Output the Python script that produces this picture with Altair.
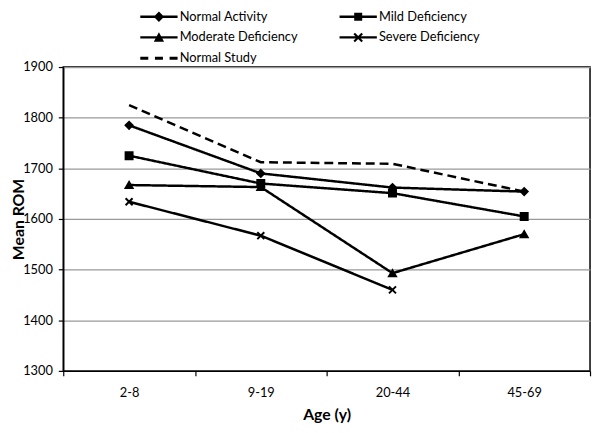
import altair as alt
import pandas as pd

ages = ["2-8", "9-19", "20-44", "45-69"]
series_names = ["Normal Activity", "Mild Deficiency", "Moderate Deficiency",
                "Severe Deficiency", "Normal Study"]
normal_activity = [1785, 1690, 1662, 1654]
mild_deficiency = [1725, 1670, 1651, 1605]
moderate_deficiency = [1667, 1663, 1493, 1570]
severe_deficiency = [1634, 1567, 1460, None]
normal_study = [1825, 1712, 1709, 1654]
y_ticks = [1300, 1400, 1500, 1600, 1700, 1800, 1900]

all_values = [normal_activity, mild_deficiency, moderate_deficiency,
              severe_deficiency, normal_study]
rows = []
for name, vals in zip(series_names, all_values):
    for a, v in zip(ages, vals):
        if v is not None:
            rows.append({"Age": a, "Series": name, "ROM": v})
df = pd.DataFrame(rows)

FONT = "Lato"
x_path = "M-1,-1L1,1M-1,1L1,-1"
point_shapes = ["diamond", "square", "triangle-up", x_path]

# legend glyphs: filled outlines only (line segment + marker)
line_seg = "M-2.1,-0.13L-2.1,0.13L2.1,0.13L2.1,-0.13Z"
legend_shapes = [
    line_seg + "M-0.58,0L0,0.58L0.58,0L0,-0.58Z",
    line_seg + "M-0.45,-0.45L-0.45,0.45L0.45,0.45L0.45,-0.45Z",
    line_seg + "M-0.58,0.47L0.58,0.47L0,-0.58Z",
    line_seg + "M-0.535,-0.365L0.365,0.535L0.535,0.365L-0.365,-0.535Z"
               "M-0.365,0.535L0.535,-0.365L0.365,-0.535L-0.535,0.365Z",
    "M-2.1,-0.17L-2.1,0.17L-1.2,0.17L-1.2,-0.17Z"
    "M-0.45,-0.17L-0.45,0.17L0.45,0.17L0.45,-0.17Z"
    "M1.2,-0.17L1.2,0.17L2.1,0.17L2.1,-0.17Z",
]

x_enc = alt.X("Age:N", sort=ages,
              scale=alt.Scale(domain=ages, paddingInner=0, paddingOuter=0),
              axis=alt.Axis(title="Age (y)", labelAngle=0, tickBand="extent",
                            domainColor="black", domainWidth=1.5,
                            tickColor="black", tickWidth=1.2, tickSize=5,
                            labelPadding=11, labelFontSize=13, labelColor="black",
                            labelFont=FONT, titleFont=FONT, titleFontSize=16,
                            titleFontWeight="bold", titleColor="black",
                            titlePadding=7, grid=False))
y_enc = alt.Y("ROM:Q",
              scale=alt.Scale(domain=[1300, 1900], nice=False, zero=False),
              axis=alt.Axis(values=y_ticks, format="d", title="Mean ROM", grid=True,
                            gridColor="#999999", gridWidth=1.3,
                            domainColor="black", domainWidth=1.5,
                            tickColor="black", tickWidth=1.2, tickSize=5,
                            labelPadding=6, labelFontSize=13, labelColor="black",
                            labelFont=FONT, titleFont=FONT, titleFontSize=16,
                            titleFontWeight="bold", titleColor="black",
                            titlePadding=-4))

lines = alt.Chart(df).mark_line(color="black").encode(
    x=x_enc, y=y_enc, detail="Series:N",
    strokeDash=alt.StrokeDash("Series:N",
                              scale=alt.Scale(domain=series_names,
                                              range=[[1, 0], [1, 0], [1, 0], [1, 0], [9, 5]]),
                              legend=None),
    strokeWidth=alt.StrokeWidth("Series:N",
                                scale=alt.Scale(domain=series_names,
                                                range=[2.5, 2.5, 2.5, 2.5, 3.5]),
                                legend=None),
)

points = alt.Chart(df).transform_filter(
    alt.datum.Series != "Normal Study"
).mark_point(filled=True, fill="black", stroke="black", strokeWidth=2,
             opacity=1, size=50).encode(
    x=x_enc, y=y_enc,
    shape=alt.Shape("Series:N",
                    scale=alt.Scale(domain=series_names[:4], range=point_shapes),
                    legend=None),
)

legend_layer = alt.Chart(df).mark_point(filled=True, fill="black",
                                        opacity=0).encode(
    x=x_enc, y=y_enc,
    shape=alt.Shape("Series:N",
                    scale=alt.Scale(domain=series_names, range=legend_shapes),
                    legend=alt.Legend(title=None, orient="none", legendX=88,
                                      legendY=-60, columns=2, direction="horizontal",
                                      symbolSize=324,
                                      symbolOpacity=1, symbolStrokeWidth=0,
                                      symbolFillColor="black",
                                      labelFont=FONT, labelFontSize=13,
                                      labelColor="black", labelOffset=12,
                                      rowPadding=5, columnPadding=42,
                                      padding=0)),
)

chart = alt.layer(lines, points, legend_layer).resolve_scale(
    shape="independent", strokeDash="independent"
).properties(
    width=534, height=308,
    padding={"left": 56, "top": 57, "right": 2, "bottom": 52},
    autosize=alt.AutoSizeParams(type="none"),
).configure_view(stroke="black", strokeWidth=1.5)

chart.save("out.html", embed_options={"renderer": "svg", "actions": False})
